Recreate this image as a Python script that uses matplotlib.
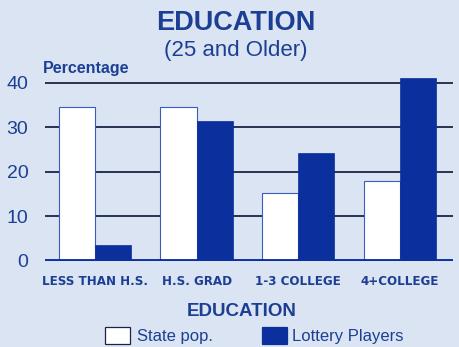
import matplotlib.pyplot as plt
import numpy as np
from matplotlib.patches import Rectangle

categories = ['LESS THAN H.S.', 'H.S. GRAD', '1-3 COLLEGE', '4+COLLEGE']
state_pop = [34.5, 34.5, 15.2, 18]
lottery = [3.6, 31.5, 24.3, 41]
yticks = [0, 10, 20, 30, 40]

plt.rcParams['font.family'] = ['Liberation Sans', 'DejaVu Sans']

bg = '#dae4f3'
navy = '#0b2f9c'
txt = '#1c3f94'

fig = plt.figure(figsize=(4.59, 3.47), dpi=100, facecolor=bg)
ax = fig.add_axes([0.098, 0.248, 0.889, 0.539], facecolor=bg)

x = np.arange(len(categories))
w = 0.355
for v in yticks[1:]:
    ax.axhline(v, color='#1b2448', linewidth=1.3, zorder=1)
ax.bar(x - w / 2, state_pop, w, color='white', edgecolor='#3a5cc0', linewidth=0.8, zorder=2)
ax.bar(x + w / 2, lottery, w, color=navy, edgecolor=navy, linewidth=0.5, zorder=2)
ax.axhline(0, color=navy, linewidth=3.5, zorder=3)

ax.set_xlim(-0.49, 3.52)
ax.set_ylim(0, 42)
for s in ax.spines.values():
    s.set_visible(False)
ax.set_yticks(yticks)
ax.set_yticklabels([str(t) for t in yticks], fontsize=14, color=txt)
ax.tick_params(axis='y', length=0, pad=12)
ax.set_xticks(x)
ax.set_xticklabels(categories, fontsize=9.5, fontweight='bold', color=txt,
                   family='DejaVu Sans', stretch='condensed')
ax.tick_params(axis='x', length=0, pad=10)

fig.text(0.514, 0.933, 'EDUCATION', ha='center', va='center', fontsize=19.5, fontweight='bold', color=txt)
fig.text(0.514, 0.855, '(25 and Older)', ha='center', va='center', fontsize=16, color=txt)
fig.text(0.094, 0.803, 'Percentage', ha='left', va='center', fontsize=11.5, fontweight='bold', color=txt)
fig.text(0.527, 0.103, 'EDUCATION', ha='center', va='center', fontsize=13.5, fontweight='bold', color=txt)

fig.patches.append(Rectangle((0.229, 0.009), 0.054, 0.049, transform=fig.transFigure,
                             facecolor='white', edgecolor='#1b2448', linewidth=0.9))
fig.text(0.298, 0.03, 'State pop.', ha='left', va='center', fontsize=12, color=txt)
fig.patches.append(Rectangle((0.571, 0.009), 0.054, 0.049, transform=fig.transFigure,
                             facecolor=navy, edgecolor=navy, linewidth=0.9))
fig.text(0.636, 0.03, 'Lottery Players', ha='left', va='center', fontsize=12, color=txt)

fig.savefig('out.png', dpi=100, facecolor=bg)
